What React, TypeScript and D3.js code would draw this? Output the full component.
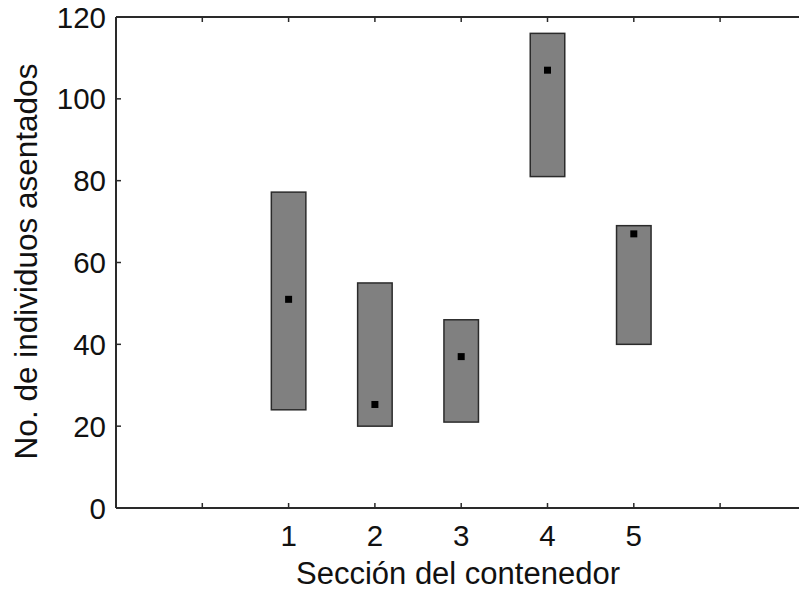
import React from "react";
import * as d3 from "d3";

// Box for each container section: lower/upper bound and central value
const sections = [1, 2, 3, 4, 5];
const upper = [77.2, 55, 46, 116, 69];
const lower = [24, 20, 21, 81, 40];
const center = [51, 25.3, 37, 107, 67];

const yTicks = [0, 20, 40, 60, 80, 100, 120];
const xTicks = [0, 1, 2, 3, 4, 5, 6];

const W = 799;
const H = 596;
const FONT = "'Liberation Sans', Arial, sans-serif";

export default function App() {
  const x = d3.scaleLinear().domain([-1, 7]).range([116, 806.4]);
  const y = d3.scaleLinear().domain([0, 120]).range([508, 17]);
  const halfW = x(0.2) - x(0);
  const axisColor = "#2a2a2a";
  const tickLen = 5;

  return (
    <svg
      width={W}
      height={H}
      style={{ position: "absolute", left: 0, top: 0, background: "#fff" }}
      fontFamily={FONT}
    >
      {/* boxes */}
      {sections.map((s, i) => (
        <g key={s}>
          <rect
            x={x(s) - halfW}
            y={y(upper[i])}
            width={halfW * 2}
            height={y(lower[i]) - y(upper[i])}
            fill="#808080"
            stroke="#2b2b2b"
            strokeWidth={1.5}
          />
          <rect x={x(s) - 3.5} y={y(center[i]) - 3.5} width={7} height={7} fill="#000" />
        </g>
      ))}

      {/* axes frame */}
      <line x1={x(-1)} x2={x(-1)} y1={y(0)} y2={y(120)} stroke={axisColor} strokeWidth={2} />
      <line x1={x(-1)} x2={W} y1={y(0)} y2={y(0)} stroke={axisColor} strokeWidth={2} />
      <line x1={x(-1)} x2={W} y1={y(120)} y2={y(120)} stroke={axisColor} strokeWidth={2} />

      {/* y ticks */}
      {yTicks.map((t) => (
        <g key={t}>
          {t > 0 && t < 120 && (
            <line x1={x(-1)} x2={x(-1) + tickLen} y1={y(t)} y2={y(t)} stroke={axisColor} strokeWidth={1.5} />
          )}
          <text x={106} y={y(t)} dy="0.36em" textAnchor="end" fontSize={29.5} fill="#111">
            {t}
          </text>
        </g>
      ))}

      {/* x ticks, bottom and top */}
      {xTicks.map((t) => (
        <g key={t}>
          <line x1={x(t)} x2={x(t)} y1={y(0)} y2={y(0) - tickLen} stroke={axisColor} strokeWidth={1.5} />
          <line x1={x(t)} x2={x(t)} y1={y(120)} y2={y(120) + tickLen} stroke={axisColor} strokeWidth={1.5} />
          {sections.includes(t) && (
            <text x={x(t)} y={546} textAnchor="middle" fontSize={29.5} fill="#111">
              {t}
            </text>
          )}
        </g>
      ))}

      {/* axis titles */}
      <text x={458} y={584} textAnchor="middle" fontSize={31} fill="#111">
        Sección del contenedor
      </text>
      <text
        transform={`translate(37, 261.5) rotate(-90)`}
        textAnchor="middle"
        fontSize={31.5}
        fill="#111"
      >
        No. de individuos asentados
      </text>
    </svg>
  );
}
